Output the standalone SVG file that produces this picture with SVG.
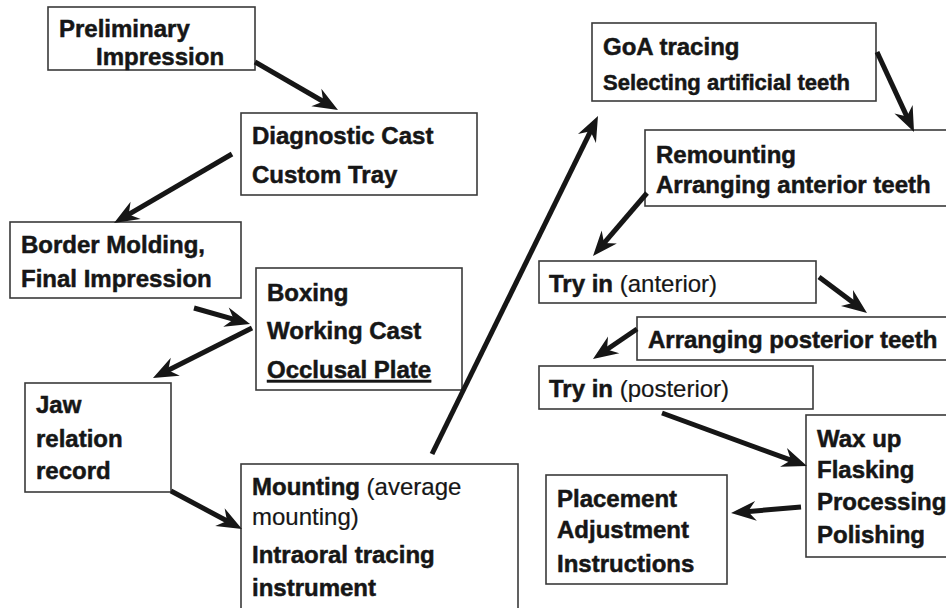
<svg xmlns="http://www.w3.org/2000/svg" width="946" height="608" viewBox="0 0 946 608">
<style>
.box{fill:#fff;stroke:#3a3a3a;stroke-width:1.6}
.t{font-family:"Liberation Sans",Arial,sans-serif;font-size:24px;font-weight:bold;fill:#161616;stroke:#161616;stroke-width:0.5}
.r{font-weight:normal;stroke-width:0.2}
.s{font-size:22px}
.conn line{stroke:#161616;stroke-width:5;marker-end:url(#ah)}
</style>
<defs>
<marker id="ah" markerUnits="userSpaceOnUse" viewBox="-14 -11 28 22" markerWidth="28" markerHeight="22" refX="0" refY="0" orient="auto">
<path d="M12,0 L-13,-10 L-5,0 L-13,10 Z" fill="#161616"/>
</marker>
</defs>
<rect width="946" height="608" fill="#fff"/>

<g id="n1"><rect class="box" x="48" y="7" width="207" height="63"/>
<text class="t" x="59" y="37">Preliminary</text><text class="t" x="96" y="65">Impression</text></g>

<g id="n2"><rect class="box" x="241" y="113" width="236" height="82"/>
<text class="t" x="252" y="144">Diagnostic Cast</text><text class="t" x="252" y="183">Custom Tray</text></g>

<g id="n3"><rect class="box" x="10" y="222" width="231" height="76"/>
<text class="t" x="21" y="253">Border Molding,</text><text class="t" x="21" y="287">Final Impression</text></g>

<g id="n4"><rect class="box" x="256" y="268" width="206" height="122"/>
<text class="t" x="267" y="301">Boxing</text><text class="t" x="267" y="339">Working Cast</text><text class="t" x="267" y="378" text-decoration="underline">Occlusal Plate</text></g>

<g id="n5"><rect class="box" x="25" y="383" width="146" height="109"/>
<text class="t" x="36" y="413">Jaw</text><text class="t" x="36" y="447">relation</text><text class="t" x="36" y="479">record</text></g>

<g id="n6"><rect class="box" x="241" y="464" width="277" height="160"/>
<text class="t" x="252" y="495">Mounting<tspan class="r"> (average</tspan></text>
<text class="t r" x="252" y="525">mounting)</text>
<text class="t" x="252" y="563">Intraoral tracing</text><text class="t" x="252" y="596">instrument</text></g>

<g id="n7"><rect class="box" x="592" y="23" width="284" height="78"/>
<text class="t" x="603" y="55">GoA tracing</text><text class="t s" x="603" y="90">Selecting artificial teeth</text></g>

<g id="n8"><rect class="box" x="645" y="130" width="310" height="76"/>
<text class="t" x="656" y="163">Remounting</text><text class="t" x="656" y="193">Arranging anterior teeth</text></g>

<g id="n9"><rect class="box" x="539" y="261" width="277" height="42"/>
<text class="t" x="549" y="292">Try in<tspan class="r"> (anterior)</tspan></text></g>

<g id="n10"><rect class="box" x="637" y="317" width="320" height="43"/>
<text class="t" x="648" y="348">Arranging posterior teeth</text></g>

<g id="n11"><rect class="box" x="539" y="366" width="274" height="43"/>
<text class="t" x="549" y="397">Try in<tspan class="r"> (posterior)</tspan></text></g>

<g id="n12"><rect class="box" x="806" y="415" width="150" height="142"/>
<text class="t" x="817" y="447">Wax up</text><text class="t" x="817" y="478">Flasking</text><text class="t" x="817" y="510">Processing</text><text class="t" x="817" y="543">Polishing</text></g>

<g id="n13"><rect class="box" x="546" y="475" width="181" height="109"/>
<text class="t" x="557" y="507">Placement</text><text class="t" x="557" y="538">Adjustment</text><text class="t" x="557" y="572">Instructions</text></g>

<g class="conn" id="connectors">
<line x1="255" y1="62" x2="327.6" y2="104"/>
<line x1="232" y1="154" x2="124.4" y2="216.9"/>
<line x1="194" y1="308" x2="238.5" y2="320.7"/>
<line x1="252" y1="328" x2="163.7" y2="372.6"/>
<line x1="171" y1="491" x2="231.4" y2="523.3"/>
<line x1="432" y1="454" x2="592.7" y2="126.8"/>
<line x1="877" y1="52" x2="909" y2="121.1"/>
<line x1="647" y1="193" x2="600.8" y2="246.9"/>
<line x1="819" y1="277" x2="857.4" y2="305.8"/>
<line x1="637" y1="329" x2="602.9" y2="352.2"/>
<line x1="662" y1="413" x2="795.7" y2="461.9"/>
<line x1="801" y1="507" x2="743" y2="512"/>
</g>
</svg>
